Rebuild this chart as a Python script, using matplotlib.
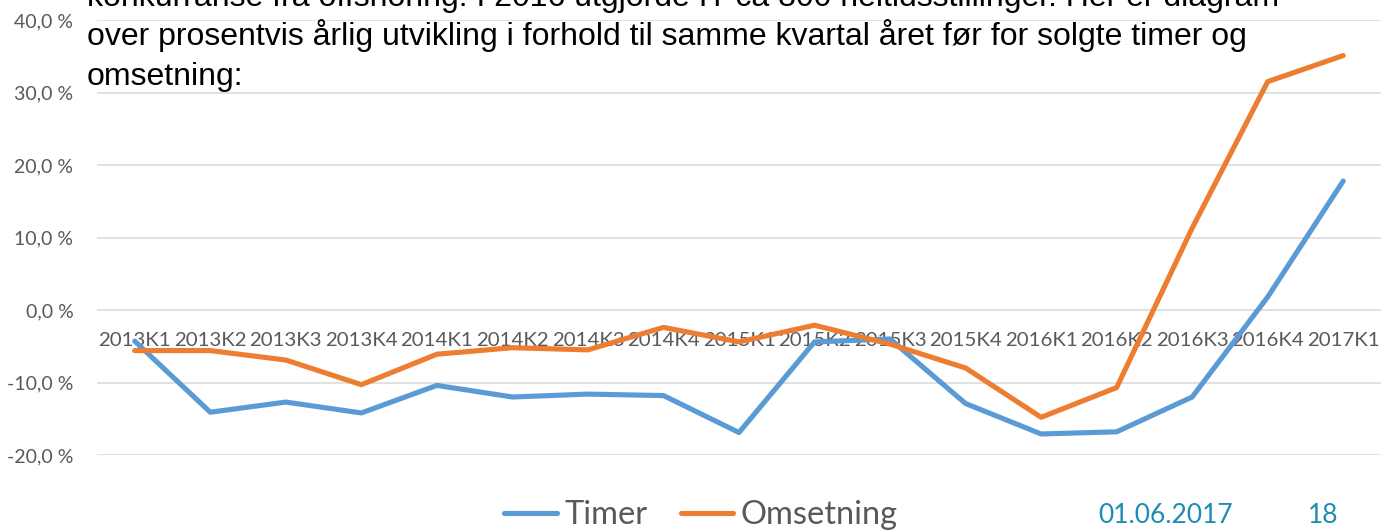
import matplotlib
matplotlib.use("Agg")
import matplotlib.pyplot as plt
from matplotlib.ticker import FuncFormatter

# Kvartaler og årlig endring i prosent
kvartaler = ["2013K1", "2013K2", "2013K3", "2013K4", "2014K1", "2014K2",
             "2014K3", "2014K4", "2015K1", "2015K2", "2015K3", "2015K4",
             "2016K1", "2016K2", "2016K3", "2016K4", "2017K1"]
timer = [-4.3, -14.1, -12.7, -14.2, -10.4, -12.0, -11.6, -11.8, -16.9,
         -4.4, -4.0, -12.9, -17.1, -16.8, -12.0, 1.8, 17.8]
omsetning = [-5.6, -5.6, -6.9, -10.3, -6.1, -5.2, -5.5, -2.4, -4.4,
             -2.1, -4.7, -8.0, -14.8, -10.7, 11.3, 31.5, 35.1]

tekst_linjer = [
    "konkurranse fra offshoring. I 2016 utgjorde IT ca 800 heltidsstillinger. Her er diagram",
    "over prosentvis årlig utvikling i forhold til samme kvartal året før for solgte timer og",
    "omsetning:",
]
dato = "01.06.2017"
side = "18"

grå = "#595959"
blå = "#5B9BD5"
oransje = "#ED7D31"

fig = plt.figure(figsize=(13.83, 5.31), dpi=100)
W, H = 1383, 531
ax = fig.add_axes([97 / W, 1 - 455 / H, (1381 - 97) / W, (455 - 20) / H])

x = range(len(kvartaler))
ax.plot(x, timer, color=blå, lw=3.7, label="Timer",
        solid_capstyle="round", solid_joinstyle="round")
ax.plot(x, omsetning, color=oransje, lw=3.7, label="Omsetning",
        solid_capstyle="round", solid_joinstyle="round")

ax.set_xlim(-0.5, len(kvartaler) - 0.5)
ax.set_ylim(-20, 40)
ax.set_yticks(range(-20, 41, 10))
ax.yaxis.set_major_formatter(FuncFormatter(lambda v, p: f"{v:.1f} %".replace(".", ",")))
ax.grid(axis="y", color="#D9D9D9", lw=1.1)

ax.set_xticks(list(x))
ax.set_xticklabels(kvartaler)
ax.spines["bottom"].set_position(("data", 0))
for s in ax.spines.values():
    s.set_visible(False)
ax.tick_params(axis="x", length=0, pad=16, labelsize=14.7, labelcolor=grå)
ax.tick_params(axis="y", length=0, pad=17, labelsize=14, labelcolor=grå)
for lab in ax.get_xticklabels() + ax.get_yticklabels():
    lab.set_fontfamily("Lato")

leg = fig.legend(loc="center", bbox_to_anchor=(0.507, 0.03), ncol=2, frameon=False,
                 prop={"family": "Lato", "size": 23.5}, handlelength=1.6,
                 handletextpad=0.25, columnspacing=1.0)
for t in leg.get_texts():
    t.set_color(grå)
for h in leg.get_lines():
    h.set_linewidth(3.7)
    h.set_solid_capstyle("round")

# Tekst fra lysbildet som ligger over diagrammet
for linje, basis in zip(tekst_linjer, [6, 45.5, 85]):
    fig.text(87 / W, 1 - basis / H, linje, family="Liberation Sans", size=23.0,
             color="black", va="baseline", ha="left")

fig.text(1098 / W, 1 - 523 / H, dato, family="Lato", size=19, color="#1E8BB5",
         va="baseline", ha="left")
fig.text(1308 / W, 1 - 523 / H, side, family="Lato", size=19, color="#1E8BB5",
         va="baseline", ha="left")

fig.savefig("out.png", dpi=100)
